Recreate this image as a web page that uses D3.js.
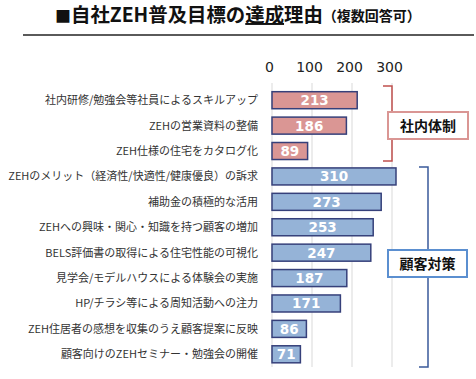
<!DOCTYPE html>
<html><head><meta charset="utf-8">
<script src="https://cdn.jsdelivr.net/npm/d3@7"></script>
<style>
html,body{margin:0;padding:0;background:#fff;}
svg{display:block;}
</style></head>
<body><svg id="c" width="476" height="379"></svg>
<script>
const categories = [
  "社内研修/勉強会等社員によるスキルアップ",
  "ZEHの営業資料の整備",
  "ZEH仕様の住宅をカタログ化",
  "ZEHのメリット（経済性/快適性/健康優良）の訴求",
  "補助金の積極的な活用",
  "ZEHへの興味・関心・知識を持つ顧客の増加",
  "BELS評価書の取得による住宅性能の可視化",
  "見学会/モデルハウスによる体験会の実施",
  "HP/チラシ等による周知活動への注力",
  "ZEH住居者の感想を収集のうえ顧客提案に反映",
  "顧客向けのZEHセミナー・勉強会の開催"
];
const values = [213, 186, 89, 310, 273, 253, 247, 187, 171, 86, 71];
const groups = ["社内体制","社内体制","社内体制","顧客対策","顧客対策","顧客対策","顧客対策","顧客対策","顧客対策","顧客対策","顧客対策"];
const groupNames = ["社内体制", "顧客対策"];
const tickValues = [0, 100, 200, 300];

const JP = "'Noto Sans CJK JP','Noto Sans',sans-serif";
const svg = d3.select("#c");

const x = d3.scaleLinear().domain([0, 300]).range([272, 392]);
const y = d3.scaleBand().domain(categories).range([87.5, 367]).paddingInner(0.33).paddingOuter(0.165);

// title
const title = svg.append("text").attr("x", 55).attr("y", 22)
  .attr("font-family", JP).attr("font-weight", "bold").attr("fill", "#111");
title.append("tspan").attr("font-size", 16).text("■");
title.append("tspan").attr("font-size", 19.4).text("自社ZEH普及目標の");
title.append("tspan").attr("font-size", 19.4).attr("text-decoration", "underline").text("達成");
title.append("tspan").attr("font-size", 19.4).text("理由");
title.append("tspan").attr("font-size", 14).attr("dy", -1).text("（複数回答可）");

svg.append("line").attr("x1", 23).attr("x2", 474).attr("y1", 35).attr("y2", 35)
  .attr("stroke", "#5a5a5a").attr("stroke-width", 2);

// gridlines
svg.append("g").selectAll("line").data(tickValues).join("line")
  .attr("x1", d => x(d)).attr("x2", d => x(d))
  .attr("y1", 83).attr("y2", 367)
  .attr("stroke", "#d9d9d9").attr("stroke-width", 1);

// top axis
const axis = d3.axisTop(x).tickValues(tickValues).tickSize(0).tickPadding(0);
const ag = svg.append("g").attr("transform", "translate(-3,72)").call(axis);
ag.select(".domain").remove();
ag.selectAll("text").attr("font-family", "'DejaVu Sans',Verdana,sans-serif")
  .attr("font-size", 14).attr("fill", "#222").attr("dy", 0);

// bars
const colorFill = d3.scaleOrdinal().domain(groupNames).range(["#da9694", "#95b3d7"]);
const rows = svg.append("g").selectAll("g").data(categories).join("g");
rows.append("rect")
  .attr("x", x(0)).attr("y", d => y(d))
  .attr("width", (d, i) => x(values[i]) - x(0))
  .attr("height", y.bandwidth())
  .attr("fill", (d, i) => colorFill(groups[i]))
  .attr("stroke", "#36407a").attr("stroke-width", 1.5);
rows.append("text")
  .attr("x", (d, i) => (x(0) + x(values[i])) / 2)
  .attr("y", d => y(d) + y.bandwidth() / 2 + 5)
  .attr("text-anchor", "middle")
  .attr("font-family", "'DejaVu Sans',Verdana,sans-serif")
  .attr("font-weight", "bold").attr("font-size", 13.5).attr("fill", "#fff")
  .text((d, i) => values[i]);
rows.append("text")
  .attr("x", 258)
  .attr("y", d => y(d) + y.bandwidth() / 2 + 4)
  .attr("text-anchor", "end")
  .attr("font-family", JP).attr("font-size", 11).attr("fill", "#333")
  .text(d => d);

// brackets
const brackets = [
  {name: "社内体制", top: 86, bottom: 161, xv: 392, xh: 383, color: "#c0504d", box: [388, 112, 80, 27], boxColor: "#da9694"},
  {name: "顧客対策", top: 167, bottom: 367, xv: 428, xh: 419, color: "#3a5a9a", box: [388, 250, 79, 27], boxColor: "#5b8fd0"}
];
brackets.forEach(b => {
  svg.append("path")
    .attr("d", `M${b.xh},${b.top}H${b.xv}V${b.bottom}H${b.xh}`)
    .attr("fill", "none").attr("stroke", b.color).attr("stroke-width", 1.5);
  svg.append("rect").attr("x", b.box[0]).attr("y", b.box[1]).attr("width", b.box[2]).attr("height", b.box[3])
    .attr("fill", "#fff").attr("stroke", b.boxColor).attr("stroke-width", 2);
  svg.append("text").attr("x", b.box[0] + b.box[2] / 2).attr("y", b.box[1] + b.box[3] / 2 + 5)
    .attr("text-anchor", "middle").attr("font-family", JP).attr("font-weight", "bold")
    .attr("font-size", 14).attr("fill", "#111").text(b.name);
});
</script></body></html>
